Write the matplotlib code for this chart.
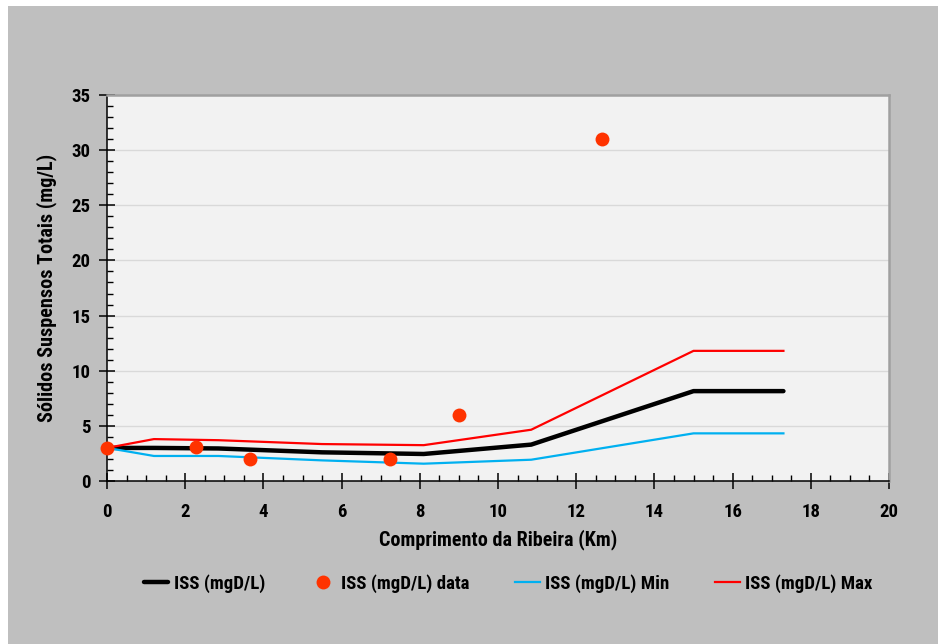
import matplotlib
matplotlib.use("Agg")
import matplotlib.pyplot as plt
from matplotlib.patches import Rectangle
from matplotlib.ticker import MultipleLocator
from matplotlib import font_manager

names = sorted({f.name for f in font_manager.fontManager.ttflist})
cands = ['Liberation Sans Narrow', 'Roboto Condensed', 'DejaVu Sans Condensed',
         'Liberation Sans', 'DejaVu Sans']
fam = [c for c in cands if c in names]
plt.rcParams['font.family'] = fam
plt.rcParams['font.weight'] = 'bold'

# Data
dist_km = [0, 1.2, 2.85, 5.5, 8.1, 10.85, 15.0, 17.3]
iss_mean = [3.0, 3.0, 2.95, 2.6, 2.45, 3.3, 8.15, 8.15]
iss_min = [3.0, 2.27, 2.27, 1.87, 1.57, 1.93, 4.32, 4.32]
iss_max = [3.0, 3.8, 3.7, 3.35, 3.25, 4.65, 11.8, 11.8]
data_km = [0, 2.28, 3.65, 7.23, 9.0, 12.65]
data_iss = [3.0, 3.05, 2.0, 2.0, 6.0, 31.0]

fig = plt.figure(figsize=(9.39, 6.44), dpi=100, facecolor='white')
fig.patches.append(Rectangle((8/939, 0), (938-8)/939, 1 - 6/644, transform=fig.transFigure,
                             facecolor='#BFBFBF', edgecolor='none', zorder=-10))

ax = fig.add_axes([107/939, 1-481/644, (889-107)/939, (481-95)/644])
ax.set_facecolor('#F2F2F2')

ax.plot(dist_km, iss_mean, color='black', lw=3.2, label='ISS (mgD/L)', zorder=3, solid_capstyle='round')
ax.plot(data_km, data_iss, 'o', color='#FF3300', markersize=10, markeredgewidth=0,
        label='ISS (mgD/L) data', zorder=5, clip_on=False)
ax.plot(dist_km, iss_min, color='#00B0F0', lw=1.6, label='ISS (mgD/L) Min', zorder=3)
ax.plot(dist_km, iss_max, color='#FF0000', lw=1.6, label='ISS (mgD/L) Max', zorder=3)

ax.set_xlim(0, 20)
ax.set_ylim(0, 35)
ax.xaxis.set_major_locator(MultipleLocator(2))
ax.xaxis.set_minor_locator(MultipleLocator(0.5))
ax.yaxis.set_major_locator(MultipleLocator(5))
ax.yaxis.set_minor_locator(MultipleLocator(1))
ax.grid(axis='y', which='major', color='#D9D9D9', lw=1)
ax.set_axisbelow(True)

ax.tick_params(which='major', direction='inout', length=12, width=1.1, color='black',
               labelsize=13.5)
ax.tick_params(axis='x', which='major', pad=10)
ax.tick_params(axis='y', which='major', pad=6)
ax.tick_params(which='minor', direction='in', length=4.5, width=1.0, color='black')
for lbl in ax.get_xticklabels() + ax.get_yticklabels():
    lbl.set_fontweight('bold')

for s in ['left', 'bottom']:
    ax.spines[s].set_color('black')
    ax.spines[s].set_linewidth(1.1)
for s in ['top', 'right']:
    ax.spines[s].set_color('#A0A0A0')
    ax.spines[s].set_linewidth(1.8)

ax.set_xlabel('Comprimento da Ribeira (Km)', fontsize=14.5, fontweight='bold', labelpad=6)
ax.set_ylabel('Sólidos Suspensos Totais (mg/L)', fontsize=14.5, fontweight='bold', labelpad=10)

leg = ax.legend(loc='center', bbox_to_anchor=(0.513, -0.265), ncol=4, frameon=False,
                handlelength=1.3, handletextpad=0.3, columnspacing=2.45,
                prop={'weight': 'bold', 'size': 13.5})

fig.savefig('out.png', dpi=100, facecolor=fig.get_facecolor())
